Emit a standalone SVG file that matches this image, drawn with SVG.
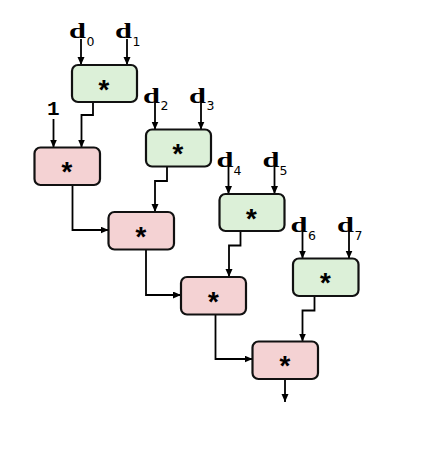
<svg xmlns="http://www.w3.org/2000/svg" width="435" height="454" viewBox="0 0 435 454">
<style>
.g{fill:#dcf0d8;stroke:#111;stroke-width:2.2}
.p{fill:#f4d2d3;stroke:#111;stroke-width:2.2}
.star{font-family:"Liberation Mono",monospace;font-weight:bold;font-size:28px;text-anchor:middle;fill:#000}
.d{font-family:"Liberation Serif",serif;font-weight:bold;font-size:20.5px;fill:#000}
.one{font-family:"Liberation Mono",monospace;font-weight:bold;font-size:21px;fill:#000}
.s{font-family:"DejaVu Sans",sans-serif;font-size:12.5px;fill:#000}
.e{fill:none;stroke:#000;stroke-width:1.8;marker-end:url(#ah)}
</style>
<defs>
<marker id="ah" markerUnits="userSpaceOnUse" markerWidth="9" markerHeight="8" refX="8" refY="3.5" orient="auto">
<path d="M0,0 L8,3.5 L0,7 z" fill="#000"/>
</marker>
</defs>
<g id="connectors">
<path class="e" d="M81,39 V65"/>
<path class="e" d="M127,39 V65"/>
<path class="e" d="M93,102 V115 H81.5 V147.5"/>
<path class="e" d="M53.5,119 V147.5"/>
<path class="e" d="M155,103 V129.5"/>
<path class="e" d="M201,103 V129.5"/>
<path class="e" d="M167,166.5 V181 H155 V212"/>
<path class="e" d="M72.5,185 V230 H108.5"/>
<path class="e" d="M228.5,167 V194"/>
<path class="e" d="M274.5,167 V194"/>
<path class="e" d="M240.5,231 V245.5 H229 V277"/>
<path class="e" d="M146,249.5 V295 H181"/>
<path class="e" d="M302.5,232 V258.5"/>
<path class="e" d="M349,232 V258.5"/>
<path class="e" d="M314.5,296 V310.5 H302.5 V341.5"/>
<path class="e" d="M215.5,314.5 V359 H252.5"/>
<path class="e" d="M285,379 V402"/>
</g>
<g id="labels">
<text class="d" x="69" y="38" textLength="17" lengthAdjust="spacingAndGlyphs">d</text><text class="s" x="86.5" y="45.5">0</text>
<text class="d" x="115" y="38" textLength="17" lengthAdjust="spacingAndGlyphs">d</text><text class="s" x="132.5" y="45.5">1</text>
<text class="one" x="47" y="115">1</text>
<text class="d" x="143" y="102.5" textLength="17" lengthAdjust="spacingAndGlyphs">d</text><text class="s" x="160.5" y="110">2</text>
<text class="d" x="189" y="102.5" textLength="17" lengthAdjust="spacingAndGlyphs">d</text><text class="s" x="206.5" y="110">3</text>
<text class="d" x="216.5" y="167" textLength="17" lengthAdjust="spacingAndGlyphs">d</text><text class="s" x="233.5" y="175">4</text>
<text class="d" x="262.5" y="167" textLength="17" lengthAdjust="spacingAndGlyphs">d</text><text class="s" x="279.5" y="175">5</text>
<text class="d" x="290.5" y="231.5" textLength="17" lengthAdjust="spacingAndGlyphs">d</text><text class="s" x="308" y="239.5">6</text>
<text class="d" x="337" y="231.5" textLength="17" lengthAdjust="spacingAndGlyphs">d</text><text class="s" x="354.5" y="239.5">7</text>
</g>
<g id="g1"><rect class="g" x="72" y="65" width="65" height="37" rx="6"/><text class="star" x="104" y="99.5">*</text></g>
<g id="g2"><rect class="g" x="146" y="129.5" width="65" height="37" rx="6"/><text class="star" x="178" y="164">*</text></g>
<g id="g3"><rect class="g" x="219.5" y="194" width="65" height="37" rx="6"/><text class="star" x="251.5" y="228.5">*</text></g>
<g id="g4"><rect class="g" x="293" y="258.5" width="65.5" height="37.5" rx="6"/><text class="star" x="325.5" y="293">*</text></g>
<g id="p1"><rect class="p" x="34.5" y="147.5" width="65.5" height="37.5" rx="6"/><text class="star" x="67" y="182">*</text></g>
<g id="p2"><rect class="p" x="108.5" y="212" width="65.5" height="37.5" rx="6"/><text class="star" x="141" y="246.5">*</text></g>
<g id="p3"><rect class="p" x="181" y="277" width="65" height="37.5" rx="6"/><text class="star" x="213.5" y="311.5">*</text></g>
<g id="p4"><rect class="p" x="252.5" y="341.5" width="65.5" height="37.5" rx="6"/><text class="star" x="285" y="376">*</text></g>
</svg>
